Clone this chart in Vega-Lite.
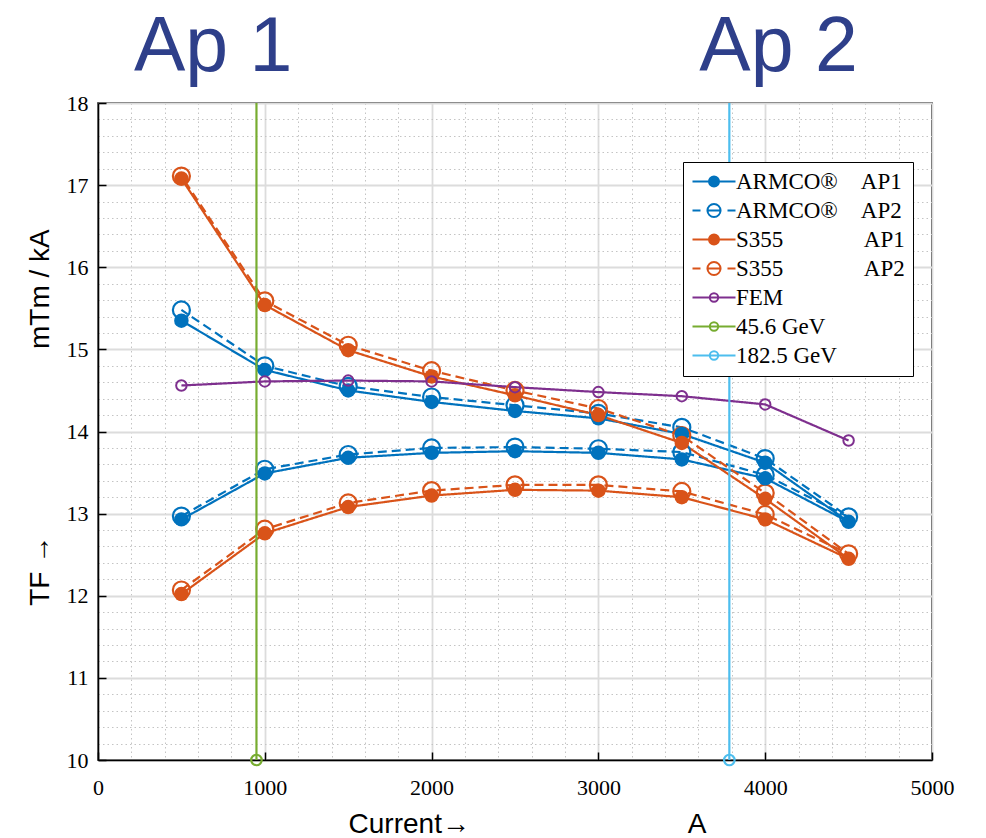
{
  "$schema": "https://vega.github.io/schema/vega-lite/v6.json",
  "autosize": "none",
  "width": 834,
  "height": 657,
  "padding": {"left": 98, "top": 103, "right": 54, "bottom": 78},
  "background": "white",
  "config": {
    "view": {"stroke": "black", "strokeWidth": 1.5},
    "axis": {
      "labelFont": "Liberation Serif",
      "labelFontSize": 22,
      "labelColor": "black",
      "titleFont": "Liberation Sans",
      "titleFontSize": 28,
      "titleFontWeight": "normal",
      "titleColor": "black",
      "domainColor": "black",
      "domainWidth": 1.5,
      "tickColor": "black",
      "tickWidth": 1.5,
      "labelOverlap": false,
      "labelFlush": false
    }
  },
  "datasets": {
    "curves": [
      {"s": "ARMCO AP1", "o": 1, "x": 500, "y": 12.93},
      {"s": "ARMCO AP1", "o": 2, "x": 1000, "y": 13.49},
      {"s": "ARMCO AP1", "o": 3, "x": 1500, "y": 13.68},
      {"s": "ARMCO AP1", "o": 4, "x": 2000, "y": 13.74},
      {"s": "ARMCO AP1", "o": 5, "x": 2500, "y": 13.76},
      {"s": "ARMCO AP1", "o": 6, "x": 3000, "y": 13.74},
      {"s": "ARMCO AP1", "o": 7, "x": 3500, "y": 13.66},
      {"s": "ARMCO AP1", "o": 8, "x": 4000, "y": 13.43},
      {"s": "ARMCO AP1", "o": 9, "x": 4500, "y": 12.90},
      {"s": "ARMCO AP1", "o": 10, "x": 4000, "y": 13.62},
      {"s": "ARMCO AP1", "o": 11, "x": 3500, "y": 13.97},
      {"s": "ARMCO AP1", "o": 12, "x": 3000, "y": 14.16},
      {"s": "ARMCO AP1", "o": 13, "x": 2500, "y": 14.25},
      {"s": "ARMCO AP1", "o": 14, "x": 2000, "y": 14.36},
      {"s": "ARMCO AP1", "o": 15, "x": 1500, "y": 14.50},
      {"s": "ARMCO AP1", "o": 16, "x": 1000, "y": 14.75},
      {"s": "ARMCO AP1", "o": 17, "x": 500, "y": 15.35},
      {"s": "ARMCO AP2", "o": 1, "x": 500, "y": 12.97},
      {"s": "ARMCO AP2", "o": 2, "x": 1000, "y": 13.54},
      {"s": "ARMCO AP2", "o": 3, "x": 1500, "y": 13.72},
      {"s": "ARMCO AP2", "o": 4, "x": 2000, "y": 13.80},
      {"s": "ARMCO AP2", "o": 5, "x": 2500, "y": 13.81},
      {"s": "ARMCO AP2", "o": 6, "x": 3000, "y": 13.79},
      {"s": "ARMCO AP2", "o": 7, "x": 3500, "y": 13.75},
      {"s": "ARMCO AP2", "o": 8, "x": 4000, "y": 13.47},
      {"s": "ARMCO AP2", "o": 9, "x": 4500, "y": 12.96},
      {"s": "ARMCO AP2", "o": 10, "x": 4000, "y": 13.67},
      {"s": "ARMCO AP2", "o": 11, "x": 3500, "y": 14.05},
      {"s": "ARMCO AP2", "o": 12, "x": 3000, "y": 14.22},
      {"s": "ARMCO AP2", "o": 13, "x": 2500, "y": 14.32},
      {"s": "ARMCO AP2", "o": 14, "x": 2000, "y": 14.42},
      {"s": "ARMCO AP2", "o": 15, "x": 1500, "y": 14.55},
      {"s": "ARMCO AP2", "o": 16, "x": 1000, "y": 14.80},
      {"s": "ARMCO AP2", "o": 17, "x": 500, "y": 15.48},
      {"s": "S355 AP1", "o": 1, "x": 500, "y": 12.02},
      {"s": "S355 AP1", "o": 2, "x": 1000, "y": 12.76},
      {"s": "S355 AP1", "o": 3, "x": 1500, "y": 13.08},
      {"s": "S355 AP1", "o": 4, "x": 2000, "y": 13.22},
      {"s": "S355 AP1", "o": 5, "x": 2500, "y": 13.29},
      {"s": "S355 AP1", "o": 6, "x": 3000, "y": 13.28},
      {"s": "S355 AP1", "o": 7, "x": 3500, "y": 13.20},
      {"s": "S355 AP1", "o": 8, "x": 4000, "y": 12.93},
      {"s": "S355 AP1", "o": 9, "x": 4500, "y": 12.45},
      {"s": "S355 AP1", "o": 10, "x": 4000, "y": 13.18},
      {"s": "S355 AP1", "o": 11, "x": 3500, "y": 13.86},
      {"s": "S355 AP1", "o": 12, "x": 3000, "y": 14.20},
      {"s": "S355 AP1", "o": 13, "x": 2500, "y": 14.44},
      {"s": "S355 AP1", "o": 14, "x": 2000, "y": 14.67},
      {"s": "S355 AP1", "o": 15, "x": 1500, "y": 14.99},
      {"s": "S355 AP1", "o": 16, "x": 1000, "y": 15.54},
      {"s": "S355 AP1", "o": 17, "x": 500, "y": 17.08},
      {"s": "S355 AP2", "o": 1, "x": 500, "y": 12.07},
      {"s": "S355 AP2", "o": 2, "x": 1000, "y": 12.81},
      {"s": "S355 AP2", "o": 3, "x": 1500, "y": 13.13},
      {"s": "S355 AP2", "o": 4, "x": 2000, "y": 13.28},
      {"s": "S355 AP2", "o": 5, "x": 2500, "y": 13.35},
      {"s": "S355 AP2", "o": 6, "x": 3000, "y": 13.35},
      {"s": "S355 AP2", "o": 7, "x": 3500, "y": 13.27},
      {"s": "S355 AP2", "o": 8, "x": 4000, "y": 12.99},
      {"s": "S355 AP2", "o": 9, "x": 4500, "y": 12.51},
      {"s": "S355 AP2", "o": 10, "x": 4000, "y": 13.25},
      {"s": "S355 AP2", "o": 11, "x": 3500, "y": 13.95},
      {"s": "S355 AP2", "o": 12, "x": 3000, "y": 14.28},
      {"s": "S355 AP2", "o": 13, "x": 2500, "y": 14.50},
      {"s": "S355 AP2", "o": 14, "x": 2000, "y": 14.74},
      {"s": "S355 AP2", "o": 15, "x": 1500, "y": 15.05},
      {"s": "S355 AP2", "o": 16, "x": 1000, "y": 15.59},
      {"s": "S355 AP2", "o": 17, "x": 500, "y": 17.11},
      {"s": "FEM", "o": 1, "x": 500, "y": 14.56},
      {"s": "FEM", "o": 2, "x": 1000, "y": 14.61},
      {"s": "FEM", "o": 3, "x": 1500, "y": 14.62},
      {"s": "FEM", "o": 4, "x": 2000, "y": 14.61},
      {"s": "FEM", "o": 5, "x": 2500, "y": 14.54},
      {"s": "FEM", "o": 6, "x": 3000, "y": 14.48},
      {"s": "FEM", "o": 7, "x": 3500, "y": 14.43},
      {"s": "FEM", "o": 8, "x": 4000, "y": 14.33},
      {"s": "FEM", "o": 9, "x": 4500, "y": 13.89}
    ],
    "energies": [
      {"s": "45.6 GeV", "x": 950, "y": 10},
      {"s": "182.5 GeV", "x": 3785, "y": 10}
    ],
    "labels": [
      {"t": "Ap 1", "x": 690, "y": 18.39},
      {"t": "Ap 2", "x": 4080, "y": 18.39}
    ]
  },
  "encoding": {
    "x": {
      "field": "x", "type": "quantitative",
      "scale": {"domain": [0, 5000], "nice": false, "zero": false},
      "axis": {
        "title": "Current→\u00a0\u00a0\u00a0\u00a0\u00a0\u00a0\u00a0\u00a0\u00a0\u00a0\u00a0\u00a0\u00a0\u00a0\u00a0\u00a0\u00a0\u00a0\u00a0\u00a0\u00a0\u00a0\u00a0\u00a0\u00a0\u00a0\u00a0\u00a0A",
        "titlePadding": 12,
        "titleX": 429,
        "values": [0,200,400,600,800,1000,1200,1400,1600,1800,2000,2200,2400,2600,2800,3000,3200,3400,3600,3800,4000,4200,4400,4600,4800,5000],
        "labelExpr": "datum.value % 1000 === 0 ? datum.label : ''",
        "format": "d",
        "grid": true,
        "gridColor": {"condition": {"test": "datum.value % 1000 === 0", "value": "#dcdcdc"}, "value": "#c4c4c4"},
        "gridDash": {"condition": {"test": "datum.value % 1000 === 0", "value": []}, "value": [1.5, 3]},
        "gridWidth": {"condition": {"test": "datum.value % 1000 === 0", "value": 1.8}, "value": 1},
        "tickOpacity": {"condition": {"test": "datum.value % 1000 === 0", "value": 1}, "value": 0},
        "tickSize": -8,
        "labelPadding": 25
      }
    },
    "y": {
      "field": "y", "type": "quantitative",
      "scale": {"domain": [10, 18], "nice": false, "zero": false},
      "axis": {
        "title": "TF →\u00a0\u00a0\u00a0\u00a0\u00a0\u00a0\u00a0\u00a0\u00a0\u00a0\u00a0\u00a0\u00a0\u00a0\u00a0\u00a0\u00a0\u00a0\u00a0\u00a0\u00a0\u00a0\u00a0\u00a0mTm / kA",
        "titlePadding": 12,
        "titleY": 314,
        "values": [10,10.2,10.4,10.6,10.8,11,11.2,11.4,11.6,11.8,12,12.2,12.4,12.6,12.8,13,13.2,13.4,13.6,13.8,14,14.2,14.4,14.6,14.8,15,15.2,15.4,15.6,15.8,16,16.2,16.4,16.6,16.8,17,17.2,17.4,17.6,17.8,18],
        "labelExpr": "abs(datum.value - round(datum.value)) < 0.001 ? format(datum.value, 'd') : ''",
        "grid": true,
        "gridColor": {"condition": {"test": "abs(datum.value - round(datum.value)) < 0.001", "value": "#dcdcdc"}, "value": "#c4c4c4"},
        "gridDash": {"condition": {"test": "abs(datum.value - round(datum.value)) < 0.001", "value": []}, "value": [1.5, 3]},
        "gridWidth": {"condition": {"test": "abs(datum.value - round(datum.value)) < 0.001", "value": 1.8}, "value": 1},
        "tickOpacity": {"condition": {"test": "abs(datum.value - round(datum.value)) < 0.001", "value": 1}, "value": 0},
        "tickSize": -8,
        "labelPadding": 18
      }
    }
  },
  "layer": [
    {
      "data": {"name": "curves"},
      "mark": {"type": "line", "strokeWidth": 2.2, "clip": true},
      "encoding": {
        "order": {"field": "o", "type": "quantitative"},
        "detail": {"field": "s"},
        "color": {
          "field": "s", "type": "nominal",
          "scale": {
            "domain": ["ARMCO AP1", "ARMCO AP2", "S355 AP1", "S355 AP2", "FEM", "45.6 GeV", "182.5 GeV"],
            "range": ["#0072BD", "#0072BD", "#D95319", "#D95319", "#7E2F8E", "#77AC30", "#4DBEEE"]
          },
          "legend": {
            "title": null,
            "orient": "none",
            "legendX": 585,
            "legendY": 59,
            "padding": 8,
            "strokeColor": "black",
            "fillColor": "white",
            "symbolSize": 400,
            "symbolStrokeWidth": 2,
            "labelOffset": 22,
            "rowPadding": 5,
            "labelFont": "Liberation Serif",
            "labelFontSize": 23,
            "labelColor": "black",
            "labelLimit": 400,
            "labelExpr": "datum.label == 'ARMCO AP1' ? 'ARMCO®\u00a0\u00a0\u00a0\u00a0AP1' : datum.label == 'ARMCO AP2' ? 'ARMCO®\u00a0\u00a0\u00a0\u00a0AP2' : datum.label == 'S355 AP1' ? 'S355\u00a0\u00a0\u00a0\u00a0\u00a0\u00a0\u00a0\u00a0\u00a0\u00a0\u00a0\u00a0\u00a0\u00a0AP1' : datum.label == 'S355 AP2' ? 'S355\u00a0\u00a0\u00a0\u00a0\u00a0\u00a0\u00a0\u00a0\u00a0\u00a0\u00a0\u00a0\u00a0\u00a0AP2' : datum.label == '45.6 GeV' ? '\u00a045.6 GeV' : datum.label",
            "encode": {
              "symbols": {
                "enter": {
                  "fillOpacity": {"signal": "indexof(['ARMCO AP1','S355 AP1'], datum.value) >= 0 ? 1 : 0"}
                },
                "update": {
                  "shape": {"signal": "indexof(['ARMCO AP1','S355 AP1'], datum.value) >= 0 ? 'M-1,0H3.3M1.65,0A0.5,0.5,0,1,1,0.65,0A0.5,0.5,0,1,1,1.65,0Z' : indexof(['ARMCO AP2','S355 AP2'], datum.value) >= 0 ? 'M-1,0H-0.2M0.4,0H1.9M2.5,0H3.3M1.8,0A0.65,0.65,0,1,1,0.5,0A0.65,0.65,0,1,1,1.8,0Z' : 'M-1,0H3.3M1.57,0A0.42,0.42,0,1,1,0.73,0A0.42,0.42,0,1,1,1.57,0Z'"},
                  "fill": {"signal": "indexof(['ARMCO AP1','S355 AP1'], datum.value) >= 0 ? scale('color', datum.value) : 'white'"},
                  "fillOpacity": {"signal": "indexof(['ARMCO AP1','S355 AP1'], datum.value) >= 0 ? 1 : 0"},
                  "stroke": {"signal": "scale('color', datum.value)"},
                  "strokeWidth": {"value": 2},
                  "strokeDash": {"value": []},
                  "opacity": {"value": 1}
                }
              }
            }
          }
        },
        "strokeDash": {
          "field": "s", "type": "nominal",
          "scale": {
            "domain": ["ARMCO AP1", "ARMCO AP2", "S355 AP1", "S355 AP2", "FEM"],
            "range": [[1, 0], [9, 5], [1, 0], [9, 5], [1, 0]]
          },
          "legend": null
        }
      }
    },
    {
      "data": {"name": "curves"},
      "transform": [{"filter": "indexof(['ARMCO AP2','S355 AP2'], datum.s) >= 0"}],
      "mark": {"type": "point", "shape": "circle", "filled": false, "size": 290, "strokeWidth": 2.2, "opacity": 1},
      "encoding": {"color": {"field": "s", "type": "nominal", "legend": null}}
    },
    {
      "data": {"name": "curves"},
      "transform": [{"filter": "indexof(['ARMCO AP1','S355 AP1'], datum.s) >= 0"}],
      "mark": {"type": "point", "shape": "circle", "filled": true, "size": 210, "opacity": 1},
      "encoding": {"color": {"field": "s", "type": "nominal", "legend": null}}
    },
    {
      "data": {"name": "curves"},
      "transform": [{"filter": "datum.s == 'FEM'"}],
      "mark": {"type": "point", "shape": "circle", "filled": false, "size": 110, "strokeWidth": 2, "opacity": 1},
      "encoding": {"color": {"field": "s", "type": "nominal", "legend": null}}
    },
    {
      "data": {"name": "energies"},
      "mark": {"type": "rule", "strokeWidth": 2.2},
      "encoding": {
        "x": {"field": "x", "type": "quantitative"},
        "y": {"value": 0},
        "y2": {"value": 657},
        "color": {"field": "s", "type": "nominal", "legend": null}
      }
    },
    {
      "data": {"name": "energies"},
      "mark": {"type": "point", "shape": "circle", "filled": false, "size": 110, "strokeWidth": 2.2, "opacity": 1},
      "encoding": {"color": {"field": "s", "type": "nominal", "legend": null}}
    },
    {
      "data": {"name": "labels"},
      "mark": {"type": "text", "font": "Liberation Sans", "fontSize": 77, "color": "#2E3F8A", "baseline": "alphabetic", "align": "center"},
      "encoding": {"text": {"field": "t"}}
    }
  ]
}
